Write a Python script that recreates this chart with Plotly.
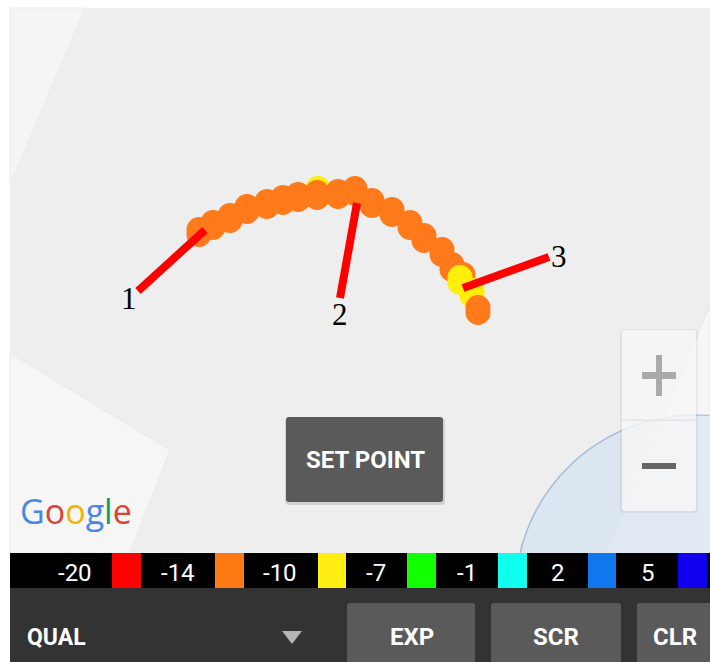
import plotly.graph_objects as go

# Track readings (map position, east / south, with quality class)
track_x = [318, 199, 213, 230, 247, 267, 283, 298, 317, 338, 355, 372, 392, 410, 424, 442, 452, 463, 472, 460, 478]
track_y = [191, 232, 225, 218, 209, 204, 200, 197, 195, 194, 191, 203, 212, 225, 238, 252, 267, 277, 293, 280, 310]
track_q = [-10, -14, -14, -14, -14, -14, -14, -14, -14, -14, -14, -14, -14, -14, -14, -14, -14, -14, -10, -10, -14]

# Callouts
callout_names = ["1", "2", "3"]
callout_from_x = [138, 340, 549]
callout_from_y = [291, 298, 257]
callout_to_x = [205, 357, 463]
callout_to_y = [230, 203, 288]
callout_label_x = [129, 340, 559]
callout_label_y = [298, 314, 256]

# Colour scale legend
scale_labels = ["-20", "-14", "-10", "-7", "-1", "2", "5"]
scale_label_x = [75, 178, 280, 376, 467, 558, 648]
scale_colors = ["#ff0000", "#ff7a14", "#ffee11", "#11ff00", "#11ffee", "#1177ee", "#1100ee"]
scale_left = [112, 215, 318, 407, 498, 588, 678]
scale_right = [141, 244, 346, 436, 527, 616, 707]

q_color = {-14: "#ff7a1a", -10: "#ffee0a"}

buttons = ["EXP", "SCR", "CLR"]
button_text_x = [412, 556, 675]
button_left = [347, 491, 637]
button_right = [475, 621, 716]

NARROW = "Roboto, sans-serif"

shapes = []
def rect(x0, y0, x1, y1, color, layer="below"):
    shapes.append(dict(type="rect", x0=x0, y0=y0, x1=x1, y1=y1, fillcolor=color, line_width=0, layer=layer))
def poly(pts, color, layer="below", line=None):
    path = "M" + " L".join(f"{x},{y}" for x, y in pts) + " Z"
    shapes.append(dict(type="path", path=path, fillcolor=color, layer=layer,
                       line=dict(width=1 if line else 0, color=line or "rgba(0,0,0,0)")))
def rrect(x0, y0, x1, y1, r, color, layer="below"):
    path = (f"M{x0+r},{y0} L{x1-r},{y0} Q{x1},{y0} {x1},{y0+r} L{x1},{y1-r} Q{x1},{y1} {x1-r},{y1} "
            f"L{x0+r},{y1} Q{x0},{y1} {x0},{y1-r} L{x0},{y0+r} Q{x0},{y0} {x0+r},{y0} Z")
    shapes.append(dict(type="path", path=path, fillcolor=color, line_width=0, layer=layer))

# Map base
rect(10, 8, 710, 553, "#eeeeee")
poly([(10, 8), (85, 8), (10, 185)], "#f5f5f5", line="#ebebeb")
poly([(10, 353), (170, 450), (130, 553), (10, 553)], "#f6f6f6", line="#e9e9e9")
poly([(710, 305), (607, 553), (710, 553)], "#f6f6f6", line="#ebebeb")
shapes.append(dict(type="circle", x0=515, y0=415, x1=875, y1=775, fillcolor="#dbe6f0", layer="below",
                   line=dict(color="#a3bcd5", width=1.5)))
poly([(710, 305), (607, 553), (710, 553)], "rgba(255,255,255,0.18)", line="rgba(225,232,240,0.8)")

# Zoom control
rrect(620, 329, 698, 513, 4, "rgba(0,0,0,0.05)", layer="above")
rrect(622, 330, 696, 511, 3, "rgba(250,250,250,0.78)", layer="above")
rect(622, 419.5, 696, 421, "#e2e4e6", layer="above")
rect(642, 372, 676, 379, "#aaaaaa", layer="above")
rect(656, 355, 662, 396, "#aaaaaa", layer="above")
rect(642, 463, 676, 469, "#666666", layer="above")

# SET POINT button
rrect(285, 418, 445, 505, 4, "rgba(0,0,0,0.12)", layer="above")
rrect(286, 417, 443, 502, 3, "#5a5a5a", layer="above")

# Bottom bars
rect(10, 553, 710, 588, "#000000", layer="above")
rect(10, 588, 710, 662, "#333333", layer="above")
for l, r, c in zip(scale_left, scale_right, scale_colors):
    rect(l, 553, r, 588, c, layer="above")
for l, r in zip(button_left, button_right):
    rrect(l, 603, r, 670, 3, "#5a5a5a", layer="above")
poly([(282, 631), (302, 631), (292, 644)], "#b5b5b5", layer="above")

fig = go.Figure()
# Each reading is drawn slightly taller than wide, as in the stretched screenshot
STRETCH = 2.5
marker_x = [x for x in track_x for _ in (0, 1)]
marker_y = [v for y in track_y for v in (y - STRETCH, y + STRETCH)]
marker_c = [q_color[q] for q in track_q for _ in (0, 1)]
fig.add_trace(go.Scatter(x=marker_x, y=marker_y, mode="markers", showlegend=False, hoverinfo="skip",
                         marker=dict(size=25, color=marker_c, line_width=0)))
for x0, y0, x1, y1 in zip(callout_from_x, callout_from_y, callout_to_x, callout_to_y):
    fig.add_trace(go.Scatter(x=[x0, x1], y=[y0, y1], mode="lines", showlegend=False, hoverinfo="skip",
                             line=dict(color="#ff0000", width=8)))

ann = []
def text(x, y, s, size, color, font=NARROW, anchor="center"):
    ann.append(dict(x=x, y=y, text=s, showarrow=False, xanchor=anchor, yanchor="middle",
                    font=dict(family=font, size=size, color=color)))
for n, x, y in zip(callout_names, callout_label_x, callout_label_y):
    text(x, y, n, 31, "#000000", font="Liberation Serif")
for s, x in zip(scale_labels, scale_label_x):
    text(x, 573, s, 24, "#ffffff")
text(25, 637, "<b>QUAL</b>", 23, "#ffffff", anchor="left")
for s, x in zip(buttons, button_text_x):
    text(x, 637, "<b>" + s + "</b>", 24, "#ffffff")
text(365, 460, "<b>SET POINT</b>", 24, "#ffffff")
google = ("<span style='color:#4a86e8'>G</span><span style='color:#db4437'>o</span>"
          "<span style='color:#f4b400'>o</span><span style='color:#4a86e8'>g</span>"
          "<span style='color:#0f9d58'>l</span><span style='color:#db4437'>e</span>")
text(76, 511, google, 34, "#4a86e8", font="Open Sans, Roboto, sans-serif")

fig.update_layout(width=710, height=662, margin=dict(l=0, r=0, t=0, b=0),
                  paper_bgcolor="#ffffff", plot_bgcolor="#ffffff",
                  xaxis=dict(range=[0, 710], visible=False, fixedrange=True),
                  yaxis=dict(range=[662, 0], visible=False, fixedrange=True),
                  shapes=shapes, annotations=ann)
fig.write_html("out.html", config={"displayModeBar": False},
               post_script="document.body.style.margin='0';document.body.style.overflow='hidden';")
